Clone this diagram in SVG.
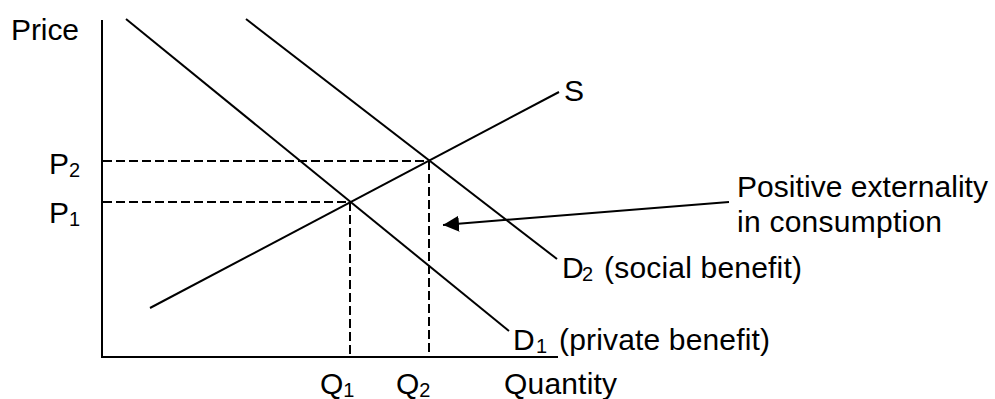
<svg xmlns="http://www.w3.org/2000/svg" width="995" height="399" viewBox="0 0 995 399">
<style>
text{font-family:"Liberation Sans",Arial,sans-serif;font-size:30px;fill:#000}
.sub{font-size:20px}
.ax{stroke:#000;stroke-width:2;fill:none}
.cv{stroke:#000;stroke-width:2;fill:none}
.dash{stroke:#000;stroke-width:2;stroke-dasharray:9 4;fill:none}
</style>
<defs>
<marker id="ah" markerUnits="userSpaceOnUse" markerWidth="17" markerHeight="16" refX="16" refY="8" orient="auto">
<path d="M0,0 L16,8 L0,16 z" fill="#000"/>
</marker>
</defs>
<g id="axes">
<path class="ax" d="M102,20 L102,357 L558,357"/>
<text x="11" y="40" textLength="68">Price</text>
<text x="504" y="394" textLength="113">Quantity</text>
</g>
<g id="connectors">
<line class="dash" x1="103" y1="161" x2="429" y2="161"/>
<line class="dash" x1="103" y1="202" x2="350" y2="202"/>
<line class="dash" x1="350" y1="202" x2="350" y2="356"/>
<line class="dash" x1="429" y1="161" x2="429" y2="356"/>
<line class="cv" x1="729" y1="202" x2="443" y2="225" marker-end="url(#ah)"/>
</g>
<g id="supply">
<line class="cv" x1="150" y1="308" x2="559" y2="92"/>
<text x="564" y="101">S</text>
</g>
<g id="demand1">
<line class="cv" x1="126" y1="19" x2="509" y2="331"/>
<text x="513" y="350">D<tspan class="sub" x="536" dy="3">1</tspan><tspan x="559" dy="-3" textLength="211">(private benefit)</tspan></text>
</g>
<g id="demand2">
<line class="cv" x1="246" y1="19" x2="557" y2="259"/>
<text x="562" y="278">D<tspan class="sub" x="582" dy="3">2</tspan><tspan x="604" dy="-3" textLength="198">(social benefit)</tspan></text>
</g>
<g id="labels">
<text x="49" y="174">P<tspan class="sub" dy="3">2</tspan></text>
<text x="49" y="223">P<tspan class="sub" dy="3">1</tspan></text>
<text x="320" y="394">Q<tspan class="sub" dy="3">1</tspan></text>
<text x="396" y="394">Q<tspan class="sub" dy="3">2</tspan></text>
</g>
<g id="note">
<text x="737" y="197" textLength="251">Positive externality</text>
<text x="737" y="232" textLength="205">in consumption</text>
</g>
</svg>
